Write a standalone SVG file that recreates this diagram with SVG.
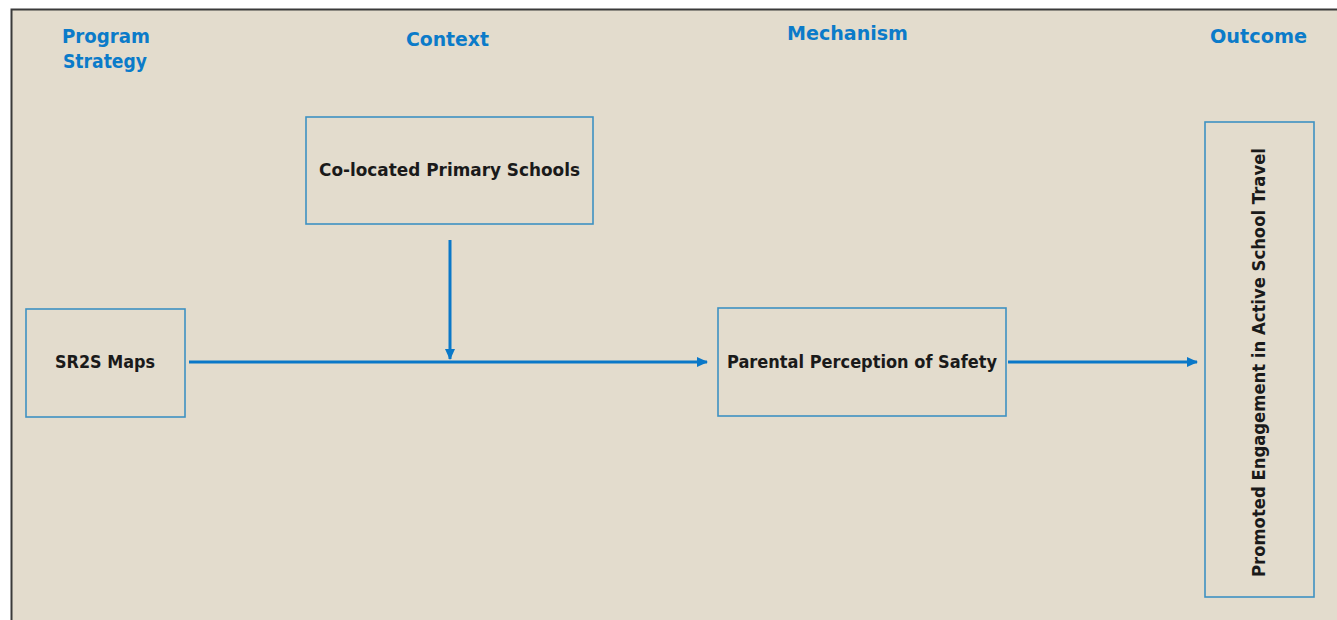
<svg xmlns="http://www.w3.org/2000/svg" width="1337" height="620" viewBox="0 0 1337 620">
<style>
.hdr{font-family:"DejaVu Sans","Liberation Sans",sans-serif;font-weight:bold;font-size:20px;fill:#0B7BC9}
.lbl{font-family:"DejaVu Sans","Liberation Sans",sans-serif;font-weight:bold;font-size:17px;fill:#1a1a1a}
.box{fill:none;stroke:#3E92C2;stroke-width:1.6}
.con{stroke:#0A78C8;stroke-width:3;fill:none}
</style>
<defs>
<marker id="ah" markerWidth="12" markerHeight="12" refX="10" refY="6" orient="auto" markerUnits="userSpaceOnUse">
<path d="M0,1 L11,6 L0,11 Z" fill="#0A78C8"/>
</marker>
</defs>
<rect x="0" y="0" width="1337" height="620" fill="#ffffff"/>
<rect x="11" y="9" width="1330" height="620" fill="#E3DCCD"/>
<path d="M11.5,620 L11.5,9.5 L1337,9.5" fill="none" stroke="#3a3a3a" stroke-width="2"/>
<g id="headers">
<text class="hdr" x="62" y="43" textLength="88" lengthAdjust="spacingAndGlyphs">Program</text>
<text class="hdr" x="63" y="68" textLength="84" lengthAdjust="spacingAndGlyphs">Strategy</text>
<text class="hdr" x="406" y="46" textLength="83" lengthAdjust="spacingAndGlyphs">Context</text>
<text class="hdr" x="787" y="40" textLength="121" lengthAdjust="spacingAndGlyphs">Mechanism</text>
<text class="hdr" x="1210" y="43" textLength="97" lengthAdjust="spacingAndGlyphs">Outcome</text>
</g>
<g id="connectors">
<line class="con" x1="189" y1="362" x2="707" y2="362" marker-end="url(#ah)"/>
<line class="con" x1="450" y1="240" x2="450" y2="359" marker-end="url(#ah)"/>
<line class="con" x1="1008" y1="362" x2="1197" y2="362" marker-end="url(#ah)"/>
</g>
<g id="node-sr2s">
<rect class="box" x="26" y="309" width="159" height="108"/>
<text class="lbl" x="55" y="368" textLength="100" lengthAdjust="spacingAndGlyphs">SR2S Maps</text>
</g>
<g id="node-context">
<rect class="box" x="306" y="117" width="287" height="107"/>
<text class="lbl" x="319" y="176" textLength="261" lengthAdjust="spacingAndGlyphs">Co-located Primary Schools</text>
</g>
<g id="node-mechanism">
<rect class="box" x="718" y="308" width="288" height="108"/>
<text class="lbl" x="727" y="368" textLength="270" lengthAdjust="spacingAndGlyphs">Parental Perception of Safety</text>
</g>
<g id="node-outcome">
<rect class="box" x="1205" y="122" width="109" height="475"/>
<text class="lbl" x="0" y="0" textLength="429" lengthAdjust="spacingAndGlyphs" transform="translate(1265,577) rotate(-90)">Promoted Engagement in Active School Travel</text>
</g>
</svg>
